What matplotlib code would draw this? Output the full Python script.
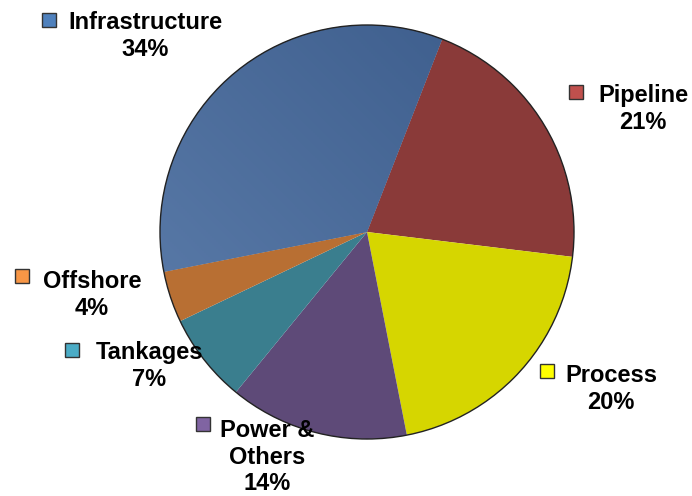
import numpy as np
import matplotlib.pyplot as plt
from matplotlib.patches import Rectangle, Circle

# Slice data (clockwise from Infrastructure)
categories = ["Infrastructure", "Pipeline", "Process", "Power &\nOthers", "Tankages", "Offshore"]
shares = [34, 21, 20, 14, 7, 4]
slice_colors = ["#46679A", "#8A3A39", "#D6D600", "#5E4A78", "#3A7E8E", "#B86F33"]
marker_colors = ["#4F81BD", "#C0504D", "#FFFF00", "#8064A2", "#4BACC6", "#F79646"]

# Label layout in pixel coords (y measured from top): text centre, marker centre
text_pos = [(145, 36), (643, 109), (611, 389), (267, 457), (149, 366), (92, 295)]
marker_pos = [(49, 20), (576, 92), (547, 371), (203, 424), (72, 350), (22, 276)]

W, H = 692, 496
fig = plt.figure(figsize=(W / 100, H / 100), dpi=100)
ax = fig.add_axes([0, 0, 1, 1])

cx, cy, r = 367, H - 232, 207
wedges, _ = ax.pie(shares, colors=slice_colors, startangle=191.1, counterclock=False,
                   center=(cx, cy), radius=r, frame=True,
                   wedgeprops=dict(linewidth=0))

# soft diagonal shading on the big blue slice
yy, xx = np.mgrid[0:1:200j, 0:1:200j]
t = (xx + (1 - yy)) / 2
c0 = np.array([0x5E, 0x7F, 0xAD]) / 255
c1 = np.array([0x3A, 0x5A, 0x89]) / 255
img = c0[None, None, :] * (1 - t[..., None]) + c1[None, None, :] * t[..., None]
im = ax.imshow(img, extent=(cx - r, cx + r, cy - r, cy + r), origin="upper",
               zorder=wedges[0].get_zorder() + 0.1, aspect="auto")
im.set_clip_path(wedges[0])

ax.add_patch(Circle((cx, cy), r, fill=False, edgecolor="#222222", linewidth=1.0, zorder=5))

for name, pct, tp, mp, mc in zip(categories, shares, text_pos, marker_pos, marker_colors):
    ax.text(tp[0], H - tp[1], f"{name}\n{pct}%", ha="center", va="center",
            fontsize=17, fontweight="bold", family="Liberation Sans",
            linespacing=1.2, color="black", zorder=6)
    s = 14
    ax.add_patch(Rectangle((mp[0] - s / 2, H - mp[1] - s / 2), s, s, facecolor=mc,
                           edgecolor="#333333", linewidth=1.0, zorder=6))

ax.set_xlim(0, W)
ax.set_ylim(0, H)
ax.axis("off")

fig.savefig("out.png", dpi=100)
